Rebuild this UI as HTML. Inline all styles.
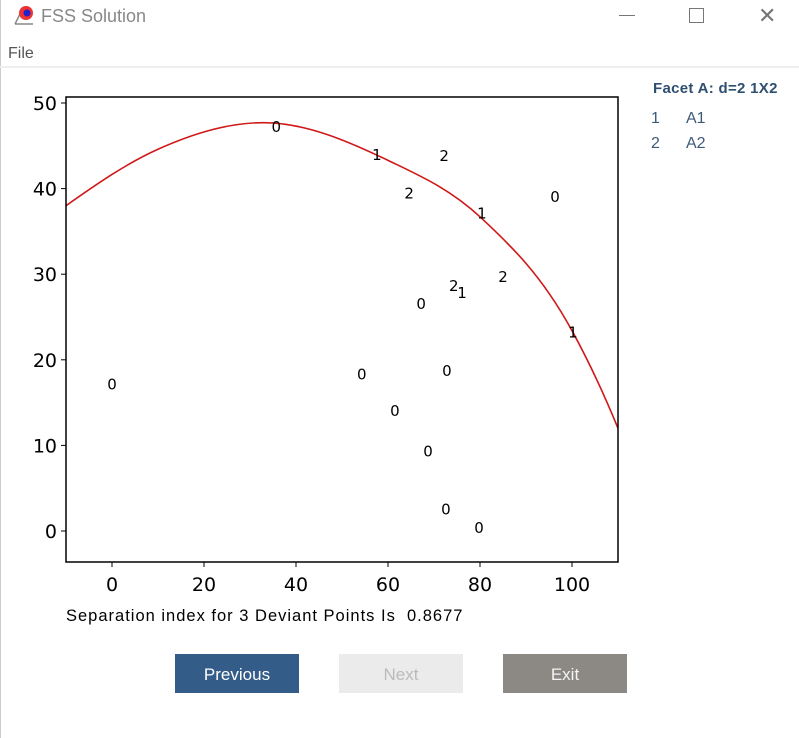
<!DOCTYPE html>
<html><head><meta charset="utf-8">
<style>
body{margin:0;width:799px;height:738px;background:#fff;font-family:"Liberation Sans",sans-serif;position:relative;overflow:hidden}
.abs{position:absolute}
.btn{position:absolute;top:654px;width:124px;height:39px;line-height:41px;text-align:center;font-size:17px}
</style></head><body>
<div class="abs" style="left:0;top:0;width:1px;height:738px;background:#ccc"></div>
<div class="abs" style="left:13px;top:5px;width:22px;height:20px">
<svg width="22" height="20"><line x1="2" y1="19" x2="20" y2="19" stroke="#888" stroke-width="1.5"/><line x1="2" y1="19" x2="9" y2="5" stroke="#888" stroke-width="1.5"/><circle cx="13" cy="8" r="7" fill="#e33"/><circle cx="14" cy="8" r="3.5" fill="#22c"/></svg></div>
<div class="abs" style="left:41px;top:6px;font-size:18px;color:#888">FSS Solution</div>
<div class="abs" style="left:619px;top:15px;width:16px;height:1px;background:#777"></div>
<div class="abs" style="left:689px;top:8px;width:13px;height:13px;border:1px solid #777"></div>
<div class="abs" style="left:758px;top:7px;font-size:22px;color:#777;line-height:18px">✕</div>
<div class="abs" style="left:8px;top:45px;font-size:16px;color:#555">File</div>
<div class="abs" style="left:0;top:66px;width:799px;height:2px;background:#eee"></div>

<svg class="abs" style="left:0;top:0" width="799" height="640" id="chart"></svg>

<div class="abs" style="left:66px;top:607px;font-size:16.5px;letter-spacing:1px;color:#000;white-space:pre">Separation index for 3 Deviant Points Is  0.8677</div>

<div class="abs" style="left:653px;top:80px;font-size:15px;font-weight:bold;color:#2f4f70;letter-spacing:0.3px">Facet A: d=2 1X2</div>
<div class="abs" style="left:651px;top:110px;font-size:16px;color:#3d5a78">1<span style="position:absolute;left:35px">A1</span></div>
<div class="abs" style="left:651px;top:135px;font-size:16px;color:#3d5a78">2<span style="position:absolute;left:35px">A2</span></div>

<div class="btn" style="left:175px;background:#335c88;color:#fff">Previous</div>
<div class="btn" style="left:339px;background:#ebebeb;color:#bbb">Next</div>
<div class="btn" style="left:503px;background:#8c8984;color:#f4f4f4">Exit</div>

<script>
const xTicks=[0,20,40,60,80,100];
const yTicks=[0,10,20,30,40,50];
const pointX=[35.7,57.6,72.2,64.6,80.4,96.3,85,74.3,76.1,67.2,100.2,0,54.3,72.8,61.5,68.7,72.6,79.8];
const pointY=[47.2,43.9,43.8,39.4,37.1,39.0,29.7,28.6,27.8,26.5,23.2,17.1,18.3,18.7,14.0,9.3,2.5,0.35];
const pointLabel=["0","1","2","2","1","0","2","2","1","0","1","0","0","0","0","0","0","0"];
const curveX=[-10,10,33,60,80,100,110];
const curveY=[38,44.6,47.7,43.3,36.7,23.4,12];
const L=66,R=618,T=97,B=562;
const sx=v=>112+(v-0)*4.6;
const sy=v=>531-v*8.56;
const svg=document.getElementById('chart');
const NS='http://www.w3.org/2000/svg';
function mk(tag,attrs){const e=document.createElementNS(NS,tag);for(const k in attrs)e.setAttribute(k,attrs[k]);svg.appendChild(e);return e;}
const n=curveX.length;
const m=[];
for(let i=0;i<n;i++){
 if(i===0)m.push((curveY[1]-curveY[0])/(curveX[1]-curveX[0])*1.15);
 else if(i===n-1)m.push((curveY[n-1]-curveY[n-2])/(curveX[n-1]-curveX[n-2])*1.15);
 else{const a=(curveY[i]-curveY[i-1])/(curveX[i]-curveX[i-1]),b=(curveY[i+1]-curveY[i])/(curveX[i+1]-curveX[i]);const ha=curveX[i]-curveX[i-1],hb=curveX[i+1]-curveX[i];m.push((a*hb+b*ha)/(ha+hb));}
}
let d='M'+sx(curveX[0])+','+sy(curveY[0]);
for(let i=0;i<n-1;i++){
 const h=curveX[i+1]-curveX[i];
 const x1=curveX[i]+h/3,y1=curveY[i]+m[i]*h/3,x2=curveX[i+1]-h/3,y2=curveY[i+1]-m[i+1]*h/3;
 d+=' C'+sx(x1)+','+sy(y1)+' '+sx(x2)+','+sy(y2)+' '+sx(curveX[i+1])+','+sy(curveY[i+1]);
}
const cp=mk('clipPath',{id:'clip'});const cr=document.createElementNS(NS,'rect');cr.setAttribute('x',L);cr.setAttribute('y',T);cr.setAttribute('width',R-L);cr.setAttribute('height',B-T);cp.appendChild(cr);
const curve=mk('path',{d:d,fill:'none',stroke:'#d01818','stroke-width':1.6,'clip-path':'url(#clip)'});


pointX.forEach((x,i)=>{
 const t=mk('text',{x:sx(x),y:sy(pointY[i])+5,'text-anchor':'middle','font-size':15,fill:'#000','font-family':'DejaVu Sans, sans-serif'});
 t.textContent=pointLabel[i];
 
 
});
const frame=mk('rect',{x:L,y:T,width:R-L,height:B-T,fill:'none',stroke:'#000','stroke-width':1.5});


xTicks.forEach(v=>{
 mk('line',{x1:sx(v),x2:sx(v),y1:B,y2:B+5,stroke:'#000'});
 const t=mk('text',{x:sx(v),y:B+29,'text-anchor':'middle','font-size':19,'font-family':'DejaVu Sans, sans-serif'});
 t.textContent=v;
 
 
});
yTicks.forEach(v=>{
 mk('line',{x1:L-5,x2:L,y1:sy(v),y2:sy(v),stroke:'#000'});
 const t=mk('text',{x:L-9,y:sy(v)+7,'text-anchor':'end','font-size':19,'font-family':'DejaVu Sans, sans-serif'});
 t.textContent=v;
 
 
});
</script>
</body></html>
